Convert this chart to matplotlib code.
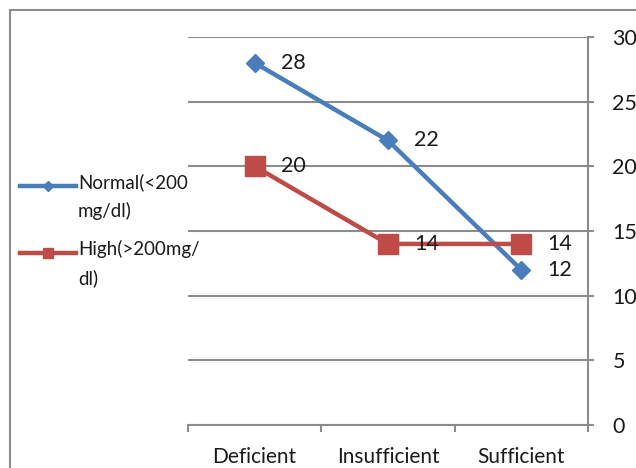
import matplotlib.pyplot as plt
from matplotlib.lines import Line2D
from matplotlib.patches import Rectangle

plt.rcParams['font.family'] = ['Lato', 'DejaVu Sans']

categories = ['Deficient', 'Insufficient', 'Sufficient']
normal = [28, 22, 12]
high = [20, 14, 14]
series_names = ['Normal(<200\nmg/dl)', 'High(>200mg/\ndl)']
yticks = [0, 5, 10, 15, 20, 25, 30]

blue = '#4A7EBB'
red = '#BE4B48'
grey = '#8C8C8C'
txt = '#1a1a1a'

W, H = 636, 468
fig = plt.figure(figsize=(W / 100, H / 100), dpi=100)
ax = fig.add_axes([188 / W, 43 / H, 400 / W, 388 / H])

x = list(range(len(categories)))
ax.plot(x, normal, color=blue, lw=3.2, marker='D', ms=9.5, zorder=3)
ax.plot(x, high, color=red, lw=3.2, marker='s', ms=14.5, zorder=3)

# value labels to the right of each point
for xi, v in zip(x, normal):
    ax.annotate(str(v), (xi, v), xytext=(19, 0), textcoords='offset points',
                va='center', ha='left', fontsize=15.5, color=txt)
for xi, v in zip(x, high):
    ax.annotate(str(v), (xi, v), xytext=(19, 0), textcoords='offset points',
                va='center', ha='left', fontsize=15.5, color=txt)

ax.set_xlim(-0.5, 2.5)
ax.set_ylim(0, 30)
ax.set_yticks(yticks)
ax.yaxis.tick_right()
ax.grid(axis='y', color=grey, lw=1.5)
ax.set_axisbelow(True)
for s in ['top', 'left']:
    ax.spines[s].set_visible(False)
ax.spines['right'].set_color(grey)
ax.spines['right'].set_linewidth(1.5)
ax.spines['bottom'].set_color(grey)
ax.spines['bottom'].set_linewidth(1.5)
ax.tick_params(axis='y', colors=grey, length=4.5, width=1.5, labelsize=15.5,
               labelcolor=txt, pad=13)

ax.set_xticks(x)
ax.set_xticklabels(categories, fontsize=15, color=txt)
ax.set_xticks([-0.5, 0.5, 1.5, 2.5], minor=True)
ax.tick_params(axis='x', which='major', length=0, pad=16)
ax.tick_params(axis='x', which='minor', length=5, width=1.5, color=grey)

# legend drawn on the left side
for yy, c, m, ms, name in [(186, blue, 'D', 5, series_names[0]),
                            (253, red, 's', 7, series_names[1])]:
    fy = 1 - yy / H
    fig.add_artist(Line2D([20 / W, 76 / W], [fy, fy], color=c, lw=3.2,
                          transform=fig.transFigure))
    fig.add_artist(Line2D([48 / W], [fy], color=c, marker=m, ms=ms,
                          transform=fig.transFigure))
    fig.text(78 / W, fy + 13 / H, name, fontsize=13.5, va='top', ha='left',
             color=txt, linespacing=1.75)

# outer chart frame
fig.add_artist(Rectangle((9.5 / W, -0.2), 1.2, 1.2 - 9.5 / H, fill=False,
                         edgecolor=grey, lw=1.5, transform=fig.transFigure))

fig.savefig('out.png', dpi=100)
